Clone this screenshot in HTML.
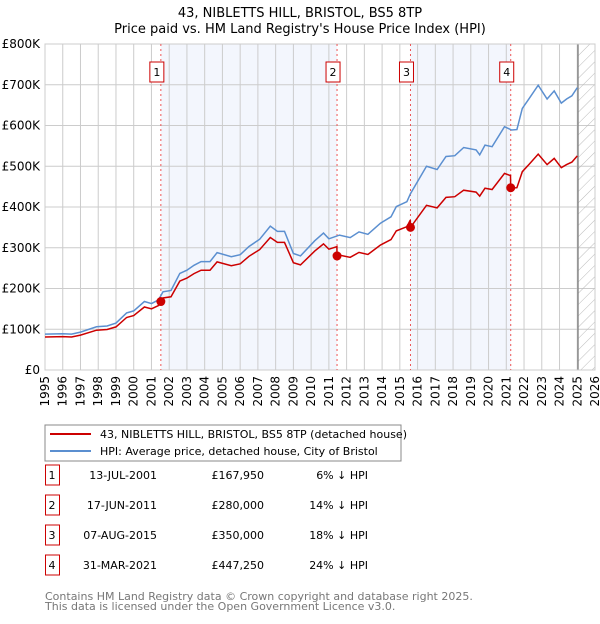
<!DOCTYPE html>
<html><head><meta charset="utf-8"><style>
body{margin:0;background:#fff;font-family:"DejaVu Sans","Liberation Sans",sans-serif;}
svg text{font-family:"DejaVu Sans","Liberation Sans",sans-serif;}
</style></head><body>
<svg id="c" width="600" height="620" viewBox="0 0 600 620" xmlns="http://www.w3.org/2000/svg">
<text x="300" y="17" text-anchor="middle" font-size="13">43, NIBLETTS HILL, BRISTOL, BS5 8TP</text>
<text x="300" y="33" text-anchor="middle" font-size="13">Price paid vs. HM Land Registry's House Price Index (HPI)</text>
<g id="plot"></g>
<rect x="45" y="425" width="356" height="36" fill="#fff" stroke="#888"/>
<line x1="50" y1="434" x2="91" y2="434" stroke="#cc0000" stroke-width="2"/>
<text x="100" y="438" font-size="11">43, NIBLETTS HILL, BRISTOL, BS5 8TP (detached house)</text>
<line x1="50" y1="451" x2="91" y2="451" stroke="#5b8fd0" stroke-width="2"/>
<text x="100" y="455" font-size="11">HPI: Average price, detached house, City of Bristol</text>
<g id="table" font-size="11"></g>
<text x="45" y="600" font-size="11" fill="#777">Contains HM Land Registry data © Crown copyright and database right 2025.</text>
<text x="45" y="610" font-size="11" fill="#777">This data is licensed under the Open Government Licence v3.0.</text>
</svg>
<script>
const years=[1995,1996,1997,1998,1999,2000,2001,2002,2003,2004,2005,2006,2007,2008,2009,2010,2011,2012,2013,2014,2015,2016,2017,2018,2019,2020,2021,2022,2023,2024,2025,2026];
const yTicks=[0,100,200,300,400,500,600,700,800];
const yTickLabels=["£0","£100K","£200K","£300K","£400K","£500K","£600K","£700K","£800K"];
const hpiT=[1995,1996,1996.5,1997,1997.9,1998.5,1999,1999.6,2000,2000.6,2001,2001.4,2001.65,2002.1,2002.6,2003,2003.4,2003.8,2004.3,2004.7,2005.5,2006,2006.5,2007.1,2007.7,2008.1,2008.5,2009,2009.4,2010.2,2010.7,2011,2011.6,2012.2,2012.7,2013.2,2013.9,2014.5,2014.8,2015.4,2015.6,2016.5,2017.1,2017.6,2018.1,2018.6,2019.3,2019.5,2019.8,2020.2,2020.9,2021.3,2021.6,2021.9,2022.3,2022.8,2023.3,2023.7,2024.1,2024.4,2024.7,2025];
const hpiV=[88,89,88,93,106,108,115,140,145,168,163,172,192,195,237,245,257,266,266,288,278,283,303,321,353,340,340,286,280,317,336,322,331,325,339,333,360,376,401,413,433,500,492,524,526,546,540,528,552,548,597,589,590,642,667,699,665,685,655,665,673,693];
const saleT=[2001.53,2011.46,2015.6,2021.25];
const saleV=[167.95,280,350,447.25];
const saleLabels=["1","2","3","4"];
const saleDates=["13-JUL-2001","17-JUN-2011","07-AUG-2015","31-MAR-2021"];
const salePrices=["£167,950","£280,000","£350,000","£447,250"];
const saleDiffs=["6% ↓ HPI","14% ↓ HPI","18% ↓ HPI","24% ↓ HPI"];

const X0=45,X1=595,Y0=370,Y1=44;
const x=t=>X0+(t-1995)*(X1-X0)/31;
const y=v=>Y0-v*(Y0-Y1)/800;
const NS="http://www.w3.org/2000/svg";
const plot=document.getElementById('plot');
function mk(tag,attrs,parent){const e=document.createElementNS(NS,tag);for(const k in attrs)e.setAttribute(k,attrs[k]);(parent||plot).appendChild(e);return e;}
function hpiAt(t){for(let i=1;i<hpiT.length;i++){if(t<=hpiT[i]){const f=(t-hpiT[i-1])/(hpiT[i]-hpiT[i-1]);return hpiV[i-1]+f*(hpiV[i]-hpiV[i-1]);}}return hpiV[hpiV.length-1];}

for(const [a,b] of [[0,1],[2,3]]){
  const r=mk('rect',{x:x(saleT[a]),y:Y1,width:x(saleT[b])-x(saleT[a]),height:Y0-Y1,fill:'#f3f6fd'});
  
  
}
yTicks.forEach((v,i)=>{
  const l=mk('line',{x1:X0,x2:X1,y1:y(v),y2:y(v),stroke:'#cccccc'});
  
  
  const t=mk('text',{x:X0-5,y:y(v)+4,'text-anchor':'end','font-size':12});
  
  
  t.textContent=yTickLabels[i];
});
years.forEach(yr=>{
  const l=mk('line',{x1:x(yr),x2:x(yr),y1:Y1,y2:Y0,stroke:'#cccccc'});
  
  
  const t=mk('text',{x:0,y:0,'text-anchor':'end','font-size':12,transform:`translate(${x(yr)+4},${Y0+6}) rotate(-90)`});
  
  
  t.textContent=yr;
});
const defs=mk('defs',{});
const pat=mk('pattern',{id:'hatch',width:8,height:8,patternUnits:'userSpaceOnUse',patternTransform:'rotate(45)'},defs);
mk('line',{x1:0,y1:0,x2:0,y2:8,stroke:'#bbbbbb','stroke-width':1},pat);
const fx=x(2025.04);
const hr=mk('rect',{x:fx,y:Y1,width:X1-fx,height:Y0-Y1,fill:'url(#hatch)'});


const fl=mk('line',{x1:fx,x2:fx,y1:Y1,y2:Y0,stroke:'#888','stroke-width':1.5});


const border=mk('rect',{x:X0,y:Y1,width:X1-X0,height:Y0-Y1,fill:'none',stroke:'#cccccc'});



saleT.forEach((t,i)=>{
  const l=mk('line',{x1:x(t),x2:x(t),y1:Y1,y2:Y0,stroke:'#ee5555','stroke-dasharray':'2,3'});
  
  
  const b=mk('rect',{x:x(t)-11,y:62,width:14,height:20,fill:'#fff',stroke:'#cc0000'});
  
  
  const tx=mk('text',{x:x(t)-4,y:76,'text-anchor':'middle','font-size':11});
  
  
  tx.textContent=saleLabels[i];
});

const hp=mk('path',{d:hpiT.map((t,i)=>(i?'L':'M')+x(t).toFixed(1)+','+y(hpiV[i]).toFixed(1)).join(''),fill:'none',stroke:'#5b8fd0','stroke-width':1.5});



const ratios=saleT.map((t,i)=>saleV[i]/hpiAt(t));
function ratioAt(t){let r=ratios[0];for(let i=0;i<saleT.length;i++)if(t>=saleT[i])r=ratios[i];return r;}
const pts=[];
const allT=hpiT.concat(saleT).concat(saleT.map(t=>t-0.01)).sort((a,b)=>a-b);
allT.forEach(t=>pts.push([t,hpiAt(t)*ratioAt(t)]));
const rp=mk('path',{d:pts.map((p,i)=>(i?'L':'M')+x(p[0]).toFixed(1)+','+y(p[1]).toFixed(1)).join(''),fill:'none',stroke:'#cc0000','stroke-width':1.5});


saleT.forEach((t,i)=>{
  const c=mk('circle',{cx:x(t),cy:y(saleV[i]),r:4.5,fill:'#cc0000'});
  
  
});

const tb=document.getElementById('table');
saleT.forEach((t,i)=>{
  const yy=475+i*30;
  const b=mk('rect',{x:45.5,y:yy-10,width:14,height:20,fill:'#fff',stroke:'#cc0000'},tb);
  
  
  const cells=[[52,'middle',saleLabels[i],'table-sale-number'],[157,'end',saleDates[i],'table-sale-date'],[264,'end',salePrices[i],'table-sale-price'],[368,'end',saleDiffs[i],'table-sale-diff']];
  cells.forEach(c=>{
    const e=mk('text',{x:c[0],y:yy+4,'text-anchor':c[1]},tb);
    
    
    e.textContent=c[2];
  });
});
</script>
</body></html>
